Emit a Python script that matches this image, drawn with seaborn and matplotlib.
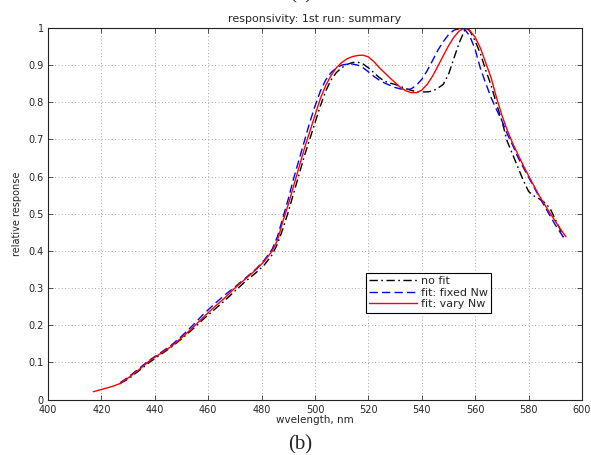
import numpy as np
import pandas as pd
import matplotlib
matplotlib.use("Agg")
import matplotlib.pyplot as plt
import seaborn as sns

# ── Data ──────────────────────────────────────────────────────────────────────
WL_NOFIT = [427, 430, 434, 438, 442, 446, 450, 454, 458, 462, 466, 470, 474, 478,
            481, 484, 486, 488, 490, 492, 494, 496, 498, 500, 502, 504, 506, 508,
            510, 512, 514, 516, 518, 520, 522, 524, 526, 528, 530, 532, 534, 536,
            538, 540, 542, 544, 546, 548, 550, 552, 554, 556, 557, 558, 560, 562,
            564, 566, 568, 570, 572, 574, 576, 578, 580, 582, 584, 586, 588, 590,
            592, 593]
NOFIT = [0.043, 0.055, 0.077, 0.100, 0.120, 0.140, 0.163, 0.188, 0.215, 0.240,
         0.265, 0.292, 0.318, 0.342, 0.362, 0.390, 0.420, 0.460, 0.505, 0.555,
         0.605, 0.655, 0.700, 0.745, 0.790, 0.830, 0.860, 0.880, 0.893, 0.902,
         0.907, 0.908, 0.903, 0.893, 0.880, 0.867, 0.857, 0.852, 0.848, 0.843,
         0.837, 0.832, 0.829, 0.828, 0.828, 0.830, 0.838, 0.848, 0.875, 0.918,
         0.960, 0.993, 1.000, 0.992, 0.965, 0.930, 0.885, 0.845, 0.795, 0.750,
         0.695, 0.660, 0.625, 0.590, 0.560, 0.548, 0.540, 0.530, 0.515, 0.485,
         0.455, 0.434]

WL_FIXED = [427, 430, 434, 438, 442, 446, 450, 454, 458, 462, 466, 470, 474, 478,
            481, 484, 486, 488, 490, 492, 494, 496, 498, 500, 502, 504, 506, 508,
            510, 512, 514, 516, 518, 520, 522, 524, 526, 528, 530, 532, 534, 536,
            538, 540, 542, 544, 546, 548, 550, 552, 554, 555, 556, 558, 560, 562,
            564, 566, 568, 570, 572, 574, 576, 578, 580, 582, 584, 586, 588, 590,
            592, 594]
FIXED_NW = [0.045, 0.060, 0.083, 0.106, 0.125, 0.145, 0.170, 0.198, 0.228, 0.255,
            0.280, 0.303, 0.327, 0.352, 0.375, 0.405, 0.440, 0.490, 0.540, 0.595,
            0.645, 0.695, 0.745, 0.790, 0.830, 0.860, 0.880, 0.892, 0.900, 0.903,
            0.903, 0.900, 0.893, 0.882, 0.870, 0.860, 0.852, 0.846, 0.840, 0.836,
            0.834, 0.836, 0.846, 0.862, 0.885, 0.912, 0.940, 0.963, 0.982, 0.994,
            0.998, 1.000, 0.997, 0.978, 0.942, 0.890, 0.850, 0.812, 0.780, 0.750,
            0.715, 0.685, 0.652, 0.625, 0.598, 0.572, 0.545, 0.520, 0.495, 0.470,
            0.448, 0.428]

WL_VARY = [417, 420, 424, 427, 430, 434, 438, 442, 446, 450, 454, 458, 462, 466,
           470, 474, 478, 481, 484, 486, 488, 490, 492, 494, 496, 498, 500, 502,
           504, 506, 508, 510, 512, 514, 516, 518, 520, 522, 524, 526, 528, 530,
           532, 534, 536, 538, 540, 542, 544, 546, 548, 550, 552, 554, 556, 558,
           560, 562, 564, 566, 568, 570, 572, 574, 576, 578, 580, 582, 584, 586,
           588, 590, 592, 594]
VARY_NW = [0.021, 0.027, 0.035, 0.043, 0.058, 0.080, 0.104, 0.123, 0.142, 0.166,
           0.192, 0.220, 0.247, 0.272, 0.300, 0.325, 0.350, 0.372, 0.400, 0.430,
           0.480, 0.525, 0.575, 0.625, 0.675, 0.720, 0.765, 0.810, 0.845, 0.872,
           0.893, 0.907, 0.917, 0.923, 0.926, 0.927, 0.922, 0.910, 0.894, 0.880,
           0.866, 0.853, 0.840, 0.831, 0.826, 0.826, 0.833, 0.848, 0.870, 0.897,
           0.925, 0.952, 0.975, 0.992, 1.000, 0.993, 0.975, 0.945, 0.905, 0.865,
           0.812, 0.765, 0.725, 0.690, 0.660, 0.630, 0.602, 0.575, 0.548, 0.525,
           0.502, 0.480, 0.458, 0.438]

LABELS = ["no fit", "fit: fixed Nw", "fit: vary Nw"]
X_TICKS = list(range(400, 601, 20))
Y_TICKS = [0, 0.1, 0.2, 0.3, 0.4, 0.5, 0.6, 0.7, 0.8, 0.9, 1]
Y_TICKLABELS = ["0", "0.1", "0.2", "0.3", "0.4", "0.5", "0.6", "0.7", "0.8", "0.9", "1"]

# ── Style ─────────────────────────────────────────────────────────────────────
sns.set_style("ticks")
plt.rcParams["font.family"] = ["DejaVu Sans"]
plt.rcParams["xtick.direction"] = "in"
plt.rcParams["ytick.direction"] = "in"

fig = plt.figure(figsize=(5.91, 4.55), dpi=100)
ax = fig.add_axes([48 / 591, 1 - 399.5 / 455, 534 / 591, 371.5 / 455])

series = [
    (WL_NOFIT, NOFIT, "black", (0, (6, 2.5, 1.2, 2.5))),
    (WL_FIXED, FIXED_NW, "blue", (0, (6, 3))),
    (WL_VARY, VARY_NW, "red", "-"),
]
for (wl, vals, col, ls), lab in zip(series, LABELS):
    df = pd.DataFrame({"wl": wl, "resp": vals})
    sns.lineplot(data=df, x="wl", y="resp", ax=ax, color=col, linestyle=ls,
                 linewidth=1.0, label=lab)

ax.set_xlim(400, 600)
ax.set_ylim(0, 1)
ax.set_xticks(X_TICKS)
ax.set_yticks(Y_TICKS)
ax.set_yticklabels(Y_TICKLABELS)
ax.tick_params(axis="both", labelsize=7, length=3.5, width=0.6, color="#333333",
               top=True, right=True)
ax.tick_params(axis="x", pad=4)
ax.tick_params(axis="y", pad=3)
ax.grid(True, linestyle=(0, (1, 3)), color="#888888", linewidth=0.6)
for sp in ax.spines.values():
    sp.set_visible(True)
    sp.set_linewidth(0.8)
    sp.set_color("#222222")

ax.set_xlabel("wvelength, nm", fontsize=7.5, labelpad=0)
ax.set_ylabel("relative response", fontsize=7, labelpad=5)
ax.set_title("responsivity: 1st run: summary", fontsize=8, pad=4)

leg = ax.legend(loc="upper left", bbox_to_anchor=((366 - 48) / 534, (399.5 - 272.7) / 371.5),
                borderaxespad=0, fontsize=8, handlelength=4.3, handletextpad=0.35,
                labelspacing=0.15, fancybox=False, framealpha=1, edgecolor="black",
                borderpad=0.3)
leg.get_frame().set_linewidth(0.8)

fig.text(300 / 591, 1 - 445 / 455, "(b)", ha="center", va="center",
         fontsize=15, family=["Liberation Serif", "DejaVu Serif"])
fig.text(301 / 591, 1 + 2 / 455, "(a)", ha="center", va="baseline",
         fontsize=15, family=["Liberation Serif", "DejaVu Serif"])

fig.savefig("out.png", dpi=100)
